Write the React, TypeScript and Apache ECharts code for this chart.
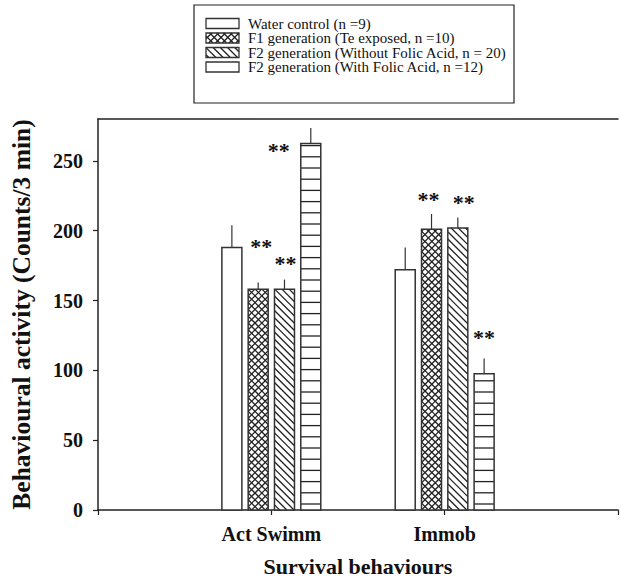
import React, { useEffect, useRef } from "react";
import * as echarts from "echarts";

// ---------- data ----------
const categories = ["", "Act Swimm", "Immob", ""];
const groupCategories = ["Act Swimm", "Immob"];
const seriesNames = [
  "Water control (n =9)",
  "F1 generation (Te exposed, n =10)",
  "F2 generation (Without Folic Acid, n = 20)",
  "F2 generation (With Folic Acid, n =12)",
];
const waterMeans = [188, 172];
const waterErr = [16, 16];
const f1Means = [158, 201];
const f1Err = [5, 11];
const f2NoFolicMeans = [158, 202];
const f2NoFolicErr = [7, 7.5];
const f2FolicMeans = [262.5, 97.5];
const f2FolicErr = [11, 11];
// significance marks ("**") and the value level at which they sit
const waterStars: (number | null)[] = [null, null];
const f1Stars: (number | null)[] = [192, 226];
const f2NoFolicStars: (number | null)[] = [180, 224];
const f2FolicStars: (number | null)[] = [261, 127];
const yTicks = [0, 50, 100, 150, 200, 250];
const yMax = 280;

// ---------- styles ----------
const FONT = "'Liberation Serif', 'Times New Roman', serif";
const INK = "#222";
const BAR_W = 20;
const PITCH = 26.3;
const STAR_DX = [
  [0, 0],
  [3, -3],
  [1, 6],
  [-32, 0],
];
const PATTERNS = ["none", "cross", "back", "horiz"];

type Seg = { x1: number; y1: number; x2: number; y2: number };

function diagLines(x0: number, y0: number, x1: number, y1: number, sp: number, dir: number): Seg[] {
  const out: Seg[] = [];
  if (dir > 0) {
    const cMin = y0 - x1, cMax = y1 - x0;
    for (let c = Math.ceil(cMin / sp) * sp; c <= cMax; c += sp) {
      const lo = Math.max(x0, y0 - c), hi = Math.min(x1, y1 - c);
      if (hi - lo > 0.3) out.push({ x1: lo, y1: lo + c, x2: hi, y2: hi + c });
    }
  } else {
    const cMin = y0 + x0, cMax = y1 + x1;
    for (let c = Math.ceil(cMin / sp) * sp; c <= cMax; c += sp) {
      const lo = Math.max(x0, c - y1), hi = Math.min(x1, c - y0);
      if (hi - lo > 0.3) out.push({ x1: lo, y1: c - lo, x2: hi, y2: c - hi });
    }
  }
  return out;
}

function hatch(pattern: string, x0: number, y0: number, x1: number, y1: number, base: number): Seg[] {
  if (pattern === "cross") return [...diagLines(x0, y0, x1, y1, 6.8, 1), ...diagLines(x0, y0, x1, y1, 6.8, -1)];
  if (pattern === "back") return diagLines(x0, y0, x1, y1, 7.2, 1);
  if (pattern === "horiz") {
    const out: Seg[] = [];
    for (let y = base - 6; y > y0 + 0.5; y -= 11.2) {
      if (y < y1 - 0.5) out.push({ x1: x0, y1: y, x2: x1, y2: y });
    }
    return out;
  }
  return [];
}

function makeRender(si: number) {
  return (params: any, api: any) => {
    const cat = api.value(0);
    const val = api.value(1);
    const err = api.value(2);
    const star = api.value(3);
    const [cx, yTop] = api.coord([cat, val]);
    const [, yBase] = api.coord([cat, 0]);
    const [, yErr] = api.coord([cat, val + err]);
    const bx = cx + (si - 1.5) * PITCH;
    const x0 = bx - BAR_W / 2, x1 = bx + BAR_W / 2;
    const children: any[] = [];
    children.push({
      type: "rect",
      shape: { x: x0, y: yTop, width: BAR_W, height: yBase - yTop },
      style: { fill: "#fff", stroke: "none" },
    });
    for (const s of hatch(PATTERNS[si], x0, yTop, x1, yBase, yBase)) {
      children.push({ type: "line", shape: s, style: { stroke: INK, lineWidth: 1.3 } });
    }
    children.push({
      type: "rect",
      shape: { x: x0, y: yTop, width: BAR_W, height: yBase - yTop },
      style: { fill: "none", stroke: "#333", lineWidth: 1.5 },
    });
    children.push({
      type: "line",
      shape: { x1: bx, y1: yTop, x2: bx, y2: yErr },
      style: { stroke: "#333", lineWidth: 1.2 },
    });
    if (star != null && !isNaN(star)) {
      const [, ys] = api.coord([cat, star]);
      const ci = params.dataIndex;
      children.push({
        type: "text",
        x: bx + STAR_DX[si][ci],
        y: ys + 5,
        style: {
          text: "**",
          fontFamily: FONT,
          fontWeight: "bold",
          fontSize: 22,
          fill: "#111",
          align: "center",
          verticalAlign: "middle",
        },
      });
    }
    return { type: "group", children };
  };
}

const seriesData = [
  [waterMeans, waterErr, waterStars],
  [f1Means, f1Err, f1Stars],
  [f2NoFolicMeans, f2NoFolicErr, f2NoFolicStars],
  [f2FolicMeans, f2FolicErr, f2FolicStars],
];

function legendGraphics(): any[] {
  const box = { x: 194, y: 5, w: 320, h: 98 };
  const rows = [23.5, 38, 52.5, 67];
  const els: any[] = [
    {
      type: "rect",
      shape: { x: box.x, y: box.y, width: box.w, height: box.h },
      style: { fill: "#fff", stroke: INK, lineWidth: 1.2 },
    },
  ];
  rows.forEach((ry, i) => {
    const ix0 = 206, ix1 = 239, iy0 = ry - 5, iy1 = ry + 5;
    for (const s of hatch(PATTERNS[i] === "horiz" ? "none" : PATTERNS[i], ix0, iy0, ix1, iy1, iy1)) {
      els.push({ type: "line", shape: s, style: { stroke: INK, lineWidth: 1.3 } });
    }
    els.push({
      type: "rect",
      shape: { x: ix0, y: iy0, width: ix1 - ix0, height: iy1 - iy0 },
      style: { fill: "none", stroke: "#333", lineWidth: 1.3 },
    });
    els.push({
      type: "text",
      x: 248,
      y: ry,
      style: {
        text: seriesNames[i],
        fontFamily: FONT,
        fontSize: 15,
        fill: "#111",
        align: "left",
        verticalAlign: "middle",
      },
    });
  });
  return els;
}

export default function App() {
  const ref = useRef<HTMLDivElement>(null);
  useEffect(() => {
    if (!ref.current) return;
    const chart = echarts.init(ref.current, undefined, { renderer: "svg" });
    const axisLine = { show: true, lineStyle: { color: INK, width: 1.5 } };
    chart.setOption({
      animation: false,
      backgroundColor: "#fff",
      grid: { left: 95, right: 1, top: 119, bottom: 67, containLabel: false },
      xAxis: [
        {
          type: "category",
          data: categories,
          boundaryGap: false,
          axisLine,
          axisTick: { show: true, length: 5, inside: false, lineStyle: { color: INK, width: 1.2 } },
          axisLabel: {
            margin: 14,
            fontFamily: FONT,
            fontWeight: "bold",
            fontSize: 20,
            color: "#111",
            interval: 0,
          },
          splitLine: { show: false },
          name: "Survival behaviours",
          nameLocation: "middle",
          nameGap: 45,
          nameTextStyle: { fontFamily: FONT, fontWeight: "bold", fontSize: 22, color: "#111" },
        },
        {
          type: "category",
          data: categories,
          boundaryGap: false,
          position: "top",
          axisLine,
          axisTick: { show: false },
          axisLabel: { show: false },
          splitLine: { show: false },
        },
      ],
      yAxis: {
        type: "value",
        min: 0,
        max: yMax,
        interval: 50,
        axisLine,
        axisTick: { show: true, length: 5, customValues: yTicks, lineStyle: { color: INK, width: 1.2 } },
        axisLabel: {
          customValues: yTicks,
          margin: 15,
          fontFamily: FONT,
          fontWeight: "bold",
          fontSize: 20,
          color: "#111",
        },
        splitLine: { show: false },
        name: "Behavioural activity (Counts/3 min)",
        nameLocation: "middle",
        nameGap: 64,
        nameTextStyle: { fontFamily: FONT, fontWeight: "bold", fontSize: 25.5, color: "#111" },
      },
      series: seriesData.map(([means, errs, stars], si) => ({
        type: "custom",
        name: seriesNames[si],
        xAxisIndex: 0,
        yAxisIndex: 0,
        renderItem: makeRender(si),
        data: groupCategories.map((c, ci) => [c, means[ci], errs[ci], stars[ci] == null ? NaN : stars[ci]]),
        encode: { x: 0, y: 1 },
        clip: false,
      })),
      graphic: legendGraphics(),
    });
    return () => chart.dispose();
  }, []);
  return (
    <div
      ref={ref}
      style={{ position: "fixed", left: 0, top: 0, width: 621, height: 582, background: "#fff" }}
    />
  );
}
